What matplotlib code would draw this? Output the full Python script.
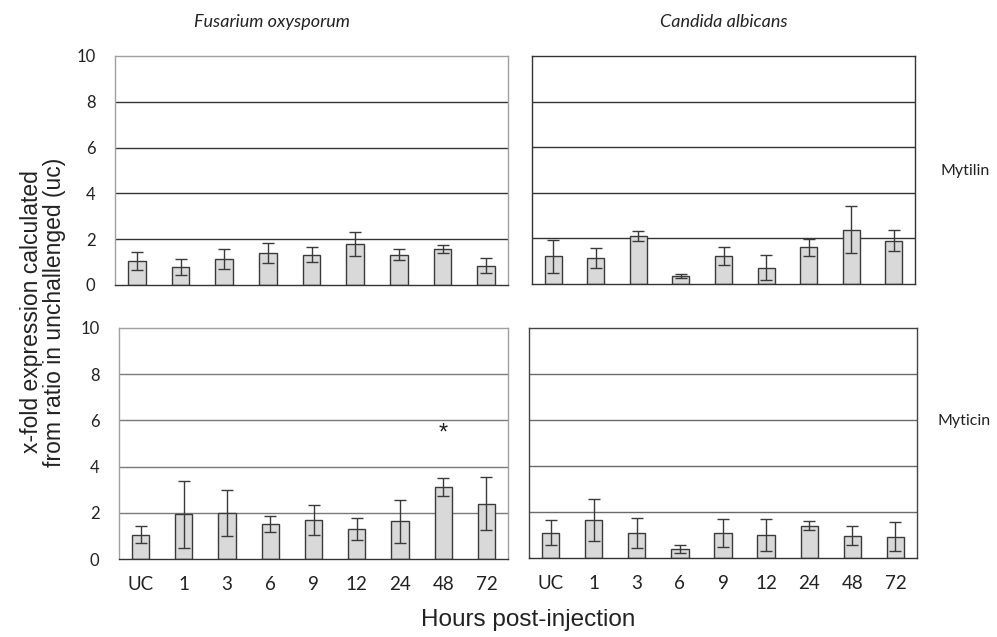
import matplotlib
matplotlib.use("Agg")
import matplotlib.pyplot as plt
import numpy as np

categories = ["UC", "1", "3", "6", "9", "12", "24", "48", "72"]

# Mytilin
fus_mytilin = [1.06, 0.78, 1.13, 1.39, 1.33, 1.78, 1.33, 1.57, 0.84]
fus_mytilin_err = [0.39, 0.36, 0.43, 0.43, 0.33, 0.53, 0.24, 0.17, 0.33]
can_mytilin = [1.21, 1.14, 2.10, 0.34, 1.23, 0.72, 1.61, 2.39, 1.90]
can_mytilin_err = [0.73, 0.46, 0.22, 0.09, 0.39, 0.56, 0.36, 1.03, 0.47]

# Myticin
fus_myticin = [1.06, 1.93, 1.99, 1.51, 1.68, 1.29, 1.63, 3.11, 2.40]
fus_myticin_err = [0.37, 1.46, 0.98, 0.33, 0.66, 0.47, 0.94, 0.40, 1.15]
can_myticin = [1.10, 1.64, 1.10, 0.39, 1.10, 0.99, 1.41, 0.97, 0.93]
can_myticin_err = [0.54, 0.92, 0.66, 0.16, 0.61, 0.69, 0.21, 0.41, 0.62]

column_titles = ["Fusarium oxysporum", "Candida albicans"]
row_labels = ["Mytilin", "Myticin"]
y_ticks = [0, 2, 4, 6, 8, 10]
star_category = "48"
star_value = 5.45

W, H = 997, 637
fig = plt.figure(figsize=(W / 100, H / 100), dpi=100)

def rect(x0, y0, x1, y1):
    return [x0 / W, 1 - y1 / H, (x1 - x0) / W, (y1 - y0) / H]

panels = [
    (rect(115, 56, 508, 285), fus_mytilin, fus_mytilin_err, "#333333", "#a0a0a0", True, False),
    (rect(532, 56, 915, 284), can_mytilin, can_mytilin_err, "#333333", "#333333", False, False),
    (rect(119, 328, 508, 559), fus_myticin, fus_myticin_err, "#7a7a7a", "#a0a0a0", True, True),
    (rect(529, 328, 917, 558), can_myticin, can_myticin_err, "#6a6a6a", "#444444", False, True),
]

tick_font = "Lato"
axes = []
for pos, vals, errs, gridc, framec, show_y, show_x in panels:
    ax = fig.add_axes(pos)
    x = np.arange(len(categories))
    ax.set_xlim(-0.5, len(categories) - 0.5)
    ax.set_ylim(0, 10)
    for g in [2, 4, 6, 8]:
        ax.axhline(g, color=gridc, lw=1.0, zorder=0)
    ax.bar(x, vals, width=0.4, color="#d9d9d9", edgecolor="#3a3a3a", linewidth=1.0, zorder=2)
    ax.errorbar(x, vals, yerr=errs, fmt="none", ecolor="#3a3a3a", elinewidth=1.0,
                capsize=4.5, capthick=1.0, zorder=3)
    for s in ax.spines.values():
        s.set_color(framec)
        s.set_linewidth(1.0)
    ax.spines["bottom"].set_color("#333333")
    ax.set_yticks(y_ticks)
    ax.tick_params(axis="both", length=0)
    if show_y:
        ax.set_yticklabels([str(t) for t in y_ticks], fontsize=12, family=tick_font, color="#222222")
        ax.tick_params(axis="y", pad=14)
    else:
        ax.set_yticklabels([])
    ax.set_xticks(x)
    if show_x:
        ax.set_xticklabels(categories, fontsize=13.5, family=tick_font, color="#222222")
        ax.tick_params(axis="x", pad=12)
    else:
        ax.set_xticklabels([])
    axes.append(ax)

# asterisk
i_star = categories.index(star_category)
axes[2].text(i_star, star_value, "*", ha="center", va="center", fontsize=17,
             family="Liberation Sans", color="#222222")

# column titles
fig.text(272 / W, 1 - 22 / H, column_titles[0], ha="center", va="center",
         fontsize=13, style="italic", family=tick_font, color="#222222")
fig.text(724 / W, 1 - 22 / H, column_titles[1], ha="center", va="center",
         fontsize=13, style="italic", family=tick_font, color="#222222")

# row labels
fig.text(940 / W, 1 - 171 / H, row_labels[0], ha="left", va="center",
         fontsize=11.5, family=tick_font, color="#222222")
fig.text(937 / W, 1 - 421 / H, row_labels[1], ha="left", va="center",
         fontsize=11.5, family=tick_font, color="#222222")

# axis labels
fig.text(43 / W, 1 - 312 / H, "x-fold expression calculated\nfrom ratio in unchallenged (uc)",
         ha="center", va="center", rotation=90, fontsize=16.5,
         family="Liberation Sans", color="#222222", linespacing=0.95)
fig.text(528 / W, 1 - 620 / H, "Hours post-injection", ha="center", va="center",
         fontsize=17.5, family="Liberation Sans", color="#222222")

fig.savefig("out.png", dpi=100)
